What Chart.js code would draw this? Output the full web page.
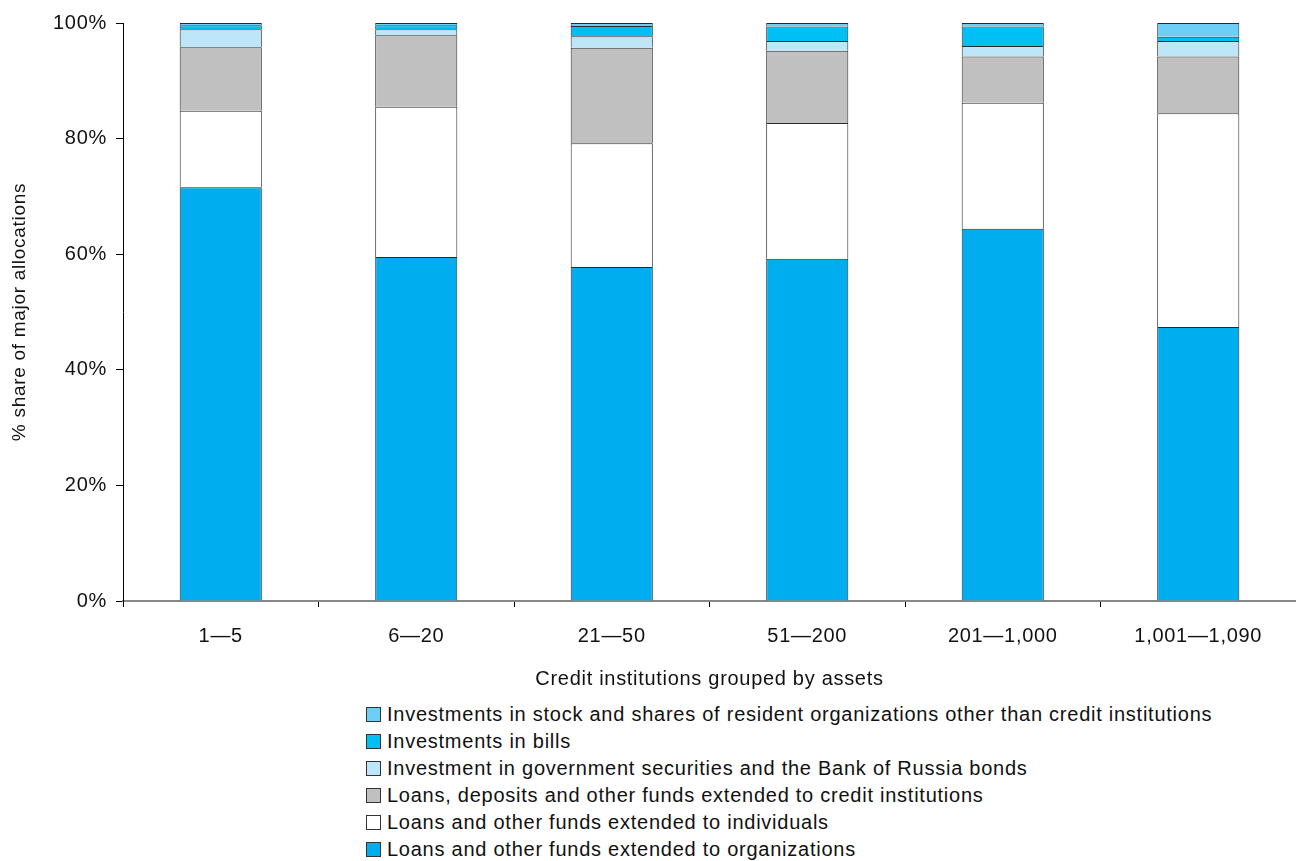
<!DOCTYPE html>
<html>
<head>
<meta charset="utf-8">
<script src="https://cdn.jsdelivr.net/npm/chart.js@4"></script>
<style>
  body { margin: 0; background: #fff; font-family: "Liberation Sans", Arial, sans-serif; }
  #wrap { position: relative; width: 1296px; height: 861px; }
  #legend { position: absolute; left: 366px; top: 701px; font-size: 20px; letter-spacing: 0.75px; color: #111; }
  .item { height: 27px; line-height: 27px; display: flex; align-items: center; }
  .box { width: 15px; height: 15px; border: 1px solid #333; margin-right: 6px; box-sizing: border-box; }
</style>
</head>
<body>
<div id="wrap">
  <canvas id="myChart" width="1296" height="700"></canvas>
  <div id="legend"></div>
</div>
<script>
// groups of credit institutions (by assets)
const categories = ["1\u20145", "6\u201420", "21\u201450", "51\u2014200", "201\u20141,000", "1,001\u20141,090"];

// % shares
const orgLoans    = [71.6, 59.5, 57.8, 59.2, 64.4, 47.4];
const indivLoans  = [13.2, 26.0, 21.4, 23.5, 21.8, 37.0];
const creditLoans = [11.0, 12.4, 16.5, 12.5, 8.0, 9.8];
const govSec      = [3.1, 1.0, 2.0, 1.7, 1.8, 2.7];
const bills       = [0.7, 0.7, 1.8, 2.5, 3.4, 0.7];
const stock       = [0.4, 0.4, 0.5, 0.6, 0.6, 2.4];

const seriesNames = [
  "Loans and other funds extended to organizations",
  "Loans and other funds extended to individuals",
  "Loans, deposits and other funds extended to credit institutions",
  "Investment in government securities and the Bank of Russia bonds",
  "Investments in bills",
  "Investments in stock and shares of resident organizations other than credit institutions"
];
const seriesValues = [orgLoans, indivLoans, creditLoans, govSec, bills, stock];
const seriesColors = ["#00aeef", "#ffffff", "#c0c0c0", "#bde6f9", "#00bff3", "#6dcff6"];

const FONT = "'Liberation Sans', Arial, sans-serif";

const datasets = seriesNames.map((name, i) => ({
  label: name,
  data: seriesValues[i],
  backgroundColor: seriesColors[i],
  borderColor: "#2a2a2a",
  borderWidth: 1,
  categoryPercentage: 1,
  barPercentage: 0.42
}));

// the reference text is a bit wider than Liberation Sans
const spacing = {
  id: "spacing",
  beforeLayout: (c) => { c.ctx.letterSpacing = "0.7px"; },
  beforeDraw: (c) => { c.ctx.letterSpacing = "0.7px"; }
};

const chart = new Chart(document.getElementById("myChart"), {
  type: "bar",
  data: { labels: categories, datasets: datasets },
  plugins: [spacing],
  options: {
    responsive: false,
    animation: false,
    layout: { padding: { top: 23, right: 0, left: 0, bottom: 5 } },
    plugins: { legend: { display: false }, tooltip: { enabled: false } },
    scales: {
      x: {
        stacked: true,
        grid: { offset: true, drawOnChartArea: false, drawTicks: true, tickLength: 6, color: "#000" },
        border: { color: "#888", width: 2 },
        ticks: { color: "#111", font: { family: FONT, size: 20 }, padding: 17 },
        title: { display: true, text: "Credit institutions grouped by assets", color: "#111",
                 font: { family: FONT, size: 20 } },
        afterFit: (s) => { s.height = 94; }
      },
      y: {
        stacked: true,
        min: 0, max: 100,
        grid: { drawOnChartArea: false, drawTicks: true, tickLength: 7, color: "#000" },
        border: { color: "#000", width: 1 },
        ticks: { stepSize: 20, color: "#111", font: { family: FONT, size: 20 }, padding: 9,
                 callback: (v) => v + "%" },
        title: { display: true, text: "% share of major allocations", color: "#111",
                 font: { family: FONT, size: 19 }, padding: { top: 8, bottom: 10 } },
        afterFit: (s) => { s.width = 123; }
      }
    }
  }
});

// legend listed top-down, reverse of stacking order
const legend = document.getElementById("legend");
chart.data.datasets.slice().reverse().forEach((ds) => {
  const row = document.createElement("div");
  row.className = "item";
  const box = document.createElement("span");
  box.className = "box";
  box.style.background = ds.backgroundColor;
  row.appendChild(box);
  row.appendChild(document.createTextNode(ds.label));
  legend.appendChild(row);
});
</script>
</body>
</html>
